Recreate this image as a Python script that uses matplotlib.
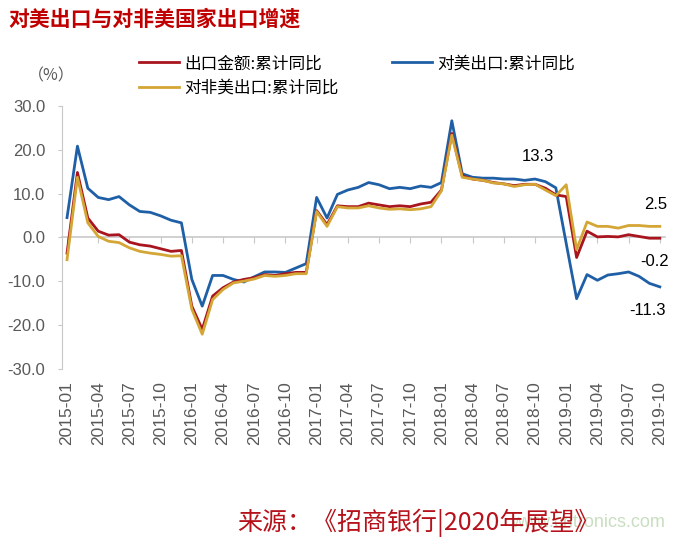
import numpy as np
import pandas as pd
from matplotlib import pyplot as plt

plt.rcParams['font.family'] = ['Noto Sans CJK SC', 'DejaVu Sans']

months = pd.date_range('2015-01', periods=58, freq='MS')
labels = [d.strftime('%Y-%m') for d in months]

total = [-3.6, 14.8, 4.4, 1.4, 0.5, 0.6, -1.1, -1.7, -2.0, -2.6, -3.2, -3.0,
         -15.7, -21.0, -13.4, -11.5, -10.2, -9.6, -9.2, -8.5, -8.7, -8.3, -8.0, -8.0,
         6.1, 2.9, 7.2, 7.0, 7.0, 7.8, 7.4, 7.0, 7.2, 7.0, 7.6, 8.0,
         10.8, 23.7, 14.0, 13.3, 13.0, 12.5, 12.2, 11.8, 12.1, 12.1, 11.2, 9.7,
         9.3, -4.6, 1.4, 0.1, 0.2, 0.1, 0.6, 0.2, -0.2, -0.2]
usa = [4.5, 20.8, 11.2, 9.1, 8.6, 9.3, 7.4, 5.9, 5.7, 4.9, 3.9, 3.3,
       -9.6, -15.7, -8.7, -8.7, -9.6, -10.2, -9.0, -7.9, -7.9, -8.0, -7.0, -6.0,
       9.1, 4.4, 9.8, 10.8, 11.4, 12.5, 12.0, 11.1, 11.4, 11.1, 11.7, 11.4,
       12.5, 26.6, 14.5, 13.7, 13.5, 13.5, 13.3, 13.3, 13.0, 13.3, 12.7, 11.3,
       -1.4, -14.0, -8.5, -9.8, -8.6, -8.3, -7.9, -8.9, -10.5, -11.3]
non_usa = [-5.1, 13.7, 3.3, 0.2, -0.9, -1.2, -2.4, -3.2, -3.6, -3.9, -4.3, -4.2,
           -16.4, -22.1, -14.2, -11.9, -10.4, -10.0, -9.5, -8.7, -8.9, -8.7, -8.3, -8.3,
           5.9, 2.5, 7.0, 6.7, 6.7, 7.2, 6.7, 6.4, 6.5, 6.3, 6.5, 7.0,
           10.6, 23.3, 13.7, 13.3, 13.0, 12.4, 12.2, 11.6, 12.0, 12.1, 10.8, 9.5,
           12.0, -2.8, 3.5, 2.5, 2.5, 2.1, 2.7, 2.7, 2.5, 2.5]

red = '#A8151E'
blue = '#1F5FA6'
gold = '#D4A635'
grey = '#595959'
num_font = 'Liberation Sans'

fig = plt.figure(figsize=(6.87, 5.40), dpi=100)
ax = fig.add_axes([0.090, 0.317, 0.878, 0.487])

x = np.arange(len(months))
l_usa, = ax.plot(x, usa, color=blue, lw=2.0, zorder=3)
l_tot, = ax.plot(x, total, color=red, lw=2.0, zorder=4)
l_non, = ax.plot(x, non_usa, color=gold, lw=2.0, zorder=5)

ax.set_xlim(-0.5, 57.5)
ax.set_ylim(-30, 30)
yt = np.arange(-30, 31, 10)
ax.set_yticks(yt)
ax.set_yticklabels([f'{v:.1f}' for v in yt], family=num_font)
ax.tick_params(axis='y', direction='out', length=3, color='#C8C8C8',
               labelsize=12, labelcolor=grey, pad=9)
for s in ['top', 'right']:
    ax.spines[s].set_visible(False)
ax.spines['left'].set_color('#C8C8C8')
ax.spines['bottom'].set_position(('data', 0))
ax.spines['bottom'].set_color('#C8C8C8')
ax.spines['bottom'].set_linewidth(1.2)
ax.set_xticks(x[::3])
ax.tick_params(axis='x', direction='out', length=4, color='#C8C8C8', labelbottom=False)

sec = ax.secondary_xaxis(0.0)
sec.set_xticks(x[::3])
sec.set_xticklabels(labels[::3], rotation=90, family=num_font)
sec.tick_params(length=0, labelsize=12.5, labelcolor=grey, pad=9)
sec.spines['bottom'].set_visible(False)

# end labels
ax.annotate(f'{usa[45]:.1f}', (45, usa[45]), xytext=(2, 16), textcoords='offset points',
            ha='center', va='center', fontsize=12, family=num_font)
ax.annotate(f'{non_usa[-1]:.1f}', (57, non_usa[-1]), xytext=(-3, 16), textcoords='offset points',
            ha='center', va='center', fontsize=12, family=num_font)
ax.annotate(f'{total[-1]:.1f}', (57, total[-1]), xytext=(-4, -17), textcoords='offset points',
            ha='center', va='center', fontsize=12, family=num_font)
ax.annotate(f'{usa[-1]:.1f}', (57, usa[-1]), xytext=(-9, -17), textcoords='offset points',
            ha='center', va='center', fontsize=12, family=num_font)

leg_kw = dict(loc='upper left', frameon=False, fontsize=12, handlelength=2.4,
              labelspacing=0.45, handletextpad=0.35, borderpad=0)
leg1 = fig.legend([l_tot, l_non], ['出口金额:累计同比', '对非美出口:累计同比'],
                  bbox_to_anchor=(0.19, 0.913), **leg_kw)
leg2 = fig.legend([l_usa], ['对美出口:累计同比'],
                  bbox_to_anchor=(0.558, 0.913), **leg_kw)

fig.text(0.012, 0.965, '对美出口与对非美国家出口增速', fontsize=15, fontweight='bold',
         color='#C00000', va='center', ha='left')
fig.text(0.04, 0.86, '（%）', fontsize=11.5, color=grey, va='center', ha='left')
fig.text(0.968, 0.032, 'www.cntronics.com', fontsize=13, color='#C9DEC0',
         va='center', ha='right', family=num_font)
fig.text(0.345, 0.032, '来源：《招商银行|2020年展望》', fontsize=18, color='#B5121B',
         va='center', ha='left')

fig.savefig('out.png', dpi=100)
